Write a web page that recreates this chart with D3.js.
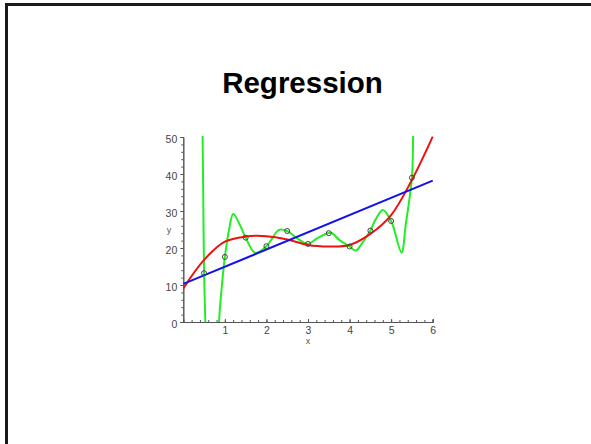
<!DOCTYPE html>
<html>
<head>
<meta charset="utf-8">
<script src="https://cdn.jsdelivr.net/npm/d3@7"></script>
<style>
  body { margin: 0; background: #fff; }
</style>
</head>
<body>
<script>
// data points
var pointX = [0.5, 1, 1.5, 2, 2.5, 3, 3.5, 4, 4.5, 5, 5.5];
var pointY = [13.2, 17.6, 22.8, 20.5, 24.6, 21.1, 24.0, 20.4, 24.7, 27.3, 39.0];

// linear fit (blue)
var lineX = [0, 6];
var lineY = [10.3, 38.2];

// cubic fit (red)
var cubicX = [0, 0.5, 1, 1.5, 2, 2.5, 3, 3.5, 4, 4.5, 5, 5.5, 6];
var cubicY = [9.1, 16.8, 21.7, 23.1, 23.2, 22.3, 20.8, 20.4, 20.8, 23.8, 28.9, 38.4, 50.1];

// interpolating curve (green)
var interpX = [0.44, 0.465, 0.48, 0.5, 0.53, 0.6, 0.7, 0.8, 0.86, 0.93, 1, 1.1, 1.2, 1.38, 1.5, 1.73, 2, 2.14, 2.3, 2.5, 2.74, 3, 3.22, 3.55, 3.75, 4, 4.15, 4.27, 4.5, 4.63, 4.8, 5, 5.25, 5.35, 5.5, 5.53, 5.56];
var interpY = [85, 50, 34, 13.2, 0, -40, -60, -35, 0, 10, 17.6, 24.9, 29.2, 25.8, 22.8, 18.7, 20.5, 22.6, 24.9, 24.6, 22.6, 21.1, 22.6, 24.1, 22.2, 20.4, 19.3, 20.8, 24.7, 27.8, 30.3, 27.3, 18.8, 26.2, 39.0, 50, 65];

var xTicks = [1, 2, 3, 4, 5, 6];
var yTicks = [0, 10, 20, 30, 40, 50];

var width = 591;
var height = 444;

var svg = d3.select("body")
  .append("svg")
  .attr("width", width)
  .attr("height", height);

// slide frame
svg.append("rect")
  .attr("x", 6.5)
  .attr("y", 4.5)
  .attr("width", 700)
  .attr("height", 600)
  .attr("fill", "none")
  .attr("stroke", "#1a1a1a")
  .attr("stroke-width", 3);

svg.append("text")
  .attr("x", 302.5)
  .attr("y", 93)
  .attr("text-anchor", "middle")
  .attr("font-family", "Liberation Sans, Arial, sans-serif")
  .attr("font-weight", "bold")
  .attr("font-size", 29.5)
  .attr("fill", "#000")
  .text("Regression");

var x = d3.scaleLinear().domain([0, 6]).range([183.3, 432.7]);
var y = d3.scaleLinear().domain([0, 50]).range([322, 137]);

svg.append("clipPath")
  .attr("id", "plot")
  .append("rect")
  .attr("x", x(0))
  .attr("y", y(50) - 1)
  .attr("width", x(6) - x(0) + 2)
  .attr("height", y(0) - y(50) + 1);

// axes
var axisColor = "#555";
var labelFont = "Liberation Sans, Arial, sans-serif";

svg.append("g")
  .attr("transform", "translate(" + x(0) + ",0)")
  .call(d3.axisLeft(y).tickValues(d3.range(0, 51, 2)).tickSize(2).tickFormat(""));
svg.append("g")
  .attr("transform", "translate(" + x(0) + ",0)")
  .call(d3.axisLeft(y).tickValues(yTicks).tickSize(3).tickPadding(3).tickFormat(d3.format("d")))
  .selectAll(".tick text")
  .attr("dy", "0.55em");

svg.append("g")
  .attr("transform", "translate(0," + y(0) + ")")
  .call(d3.axisTop(x).tickValues(d3.range(0.2, 6.01, 0.2)).tickSize(2).tickFormat(""));
svg.append("g")
  .attr("transform", "translate(0," + y(0) + ")")
  .call(d3.axisBottom(x).tickValues(xTicks).tickSize(0).tickPadding(5).tickFormat(d3.format("d")));
svg.append("g")
  .attr("transform", "translate(0," + y(0) + ")")
  .call(d3.axisTop(x).tickValues(xTicks).tickSize(3).tickFormat(""));

svg.selectAll(".domain").attr("stroke", axisColor);
svg.selectAll(".tick line").attr("stroke", axisColor);
svg.selectAll(".tick text")
  .attr("fill", "#444")
  .attr("font-family", labelFont)
  .attr("font-size", 10.5);

svg.append("text")
  .attr("x", x(3))
  .attr("y", 344)
  .attr("text-anchor", "middle")
  .attr("font-family", labelFont)
  .attr("font-size", 9)
  .attr("fill", "#555")
  .text("x");

svg.append("text")
  .attr("x", 169)
  .attr("y", 233)
  .attr("text-anchor", "middle")
  .attr("font-family", labelFont)
  .attr("font-size", 9)
  .attr("fill", "#555")
  .text("y");

// curves
function drawCurve(xs, ys, color, curve) {
  var pts = xs.map(function(d, i) { return [d, ys[i]]; });
  svg.append("path")
    .datum(pts)
    .attr("clip-path", "url(#plot)")
    .attr("fill", "none")
    .attr("stroke", color)
    .attr("stroke-width", 2)
    .attr("d", d3.line()
      .x(function(d) { return x(d[0]); })
      .y(function(d) { return y(d[1]); })
      .curve(curve));
}

drawCurve(interpX, interpY, "#22ee22", d3.curveCatmullRom);
drawCurve(cubicX, cubicY, "#ee1111", d3.curveCatmullRom);
drawCurve(lineX, lineY, "#1111ee", d3.curveLinear);

svg.selectAll("circle.pt")
  .data(pointX)
  .enter()
  .append("circle")
  .attr("class", "pt")
  .attr("cx", function(d) { return x(d); })
  .attr("cy", function(d, i) { return y(pointY[i]); })
  .attr("r", 2.5)
  .attr("fill", "none")
  .attr("stroke", "#444")
  .attr("stroke-width", 1);
</script>
</body>
</html>
